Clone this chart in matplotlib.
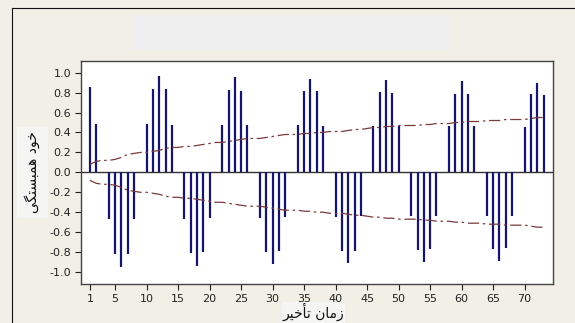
import numpy as np
import matplotlib.pyplot as plt
from matplotlib.patches import Rectangle
from matplotlib.lines import Line2D

plt.rcParams['axes.unicode_minus'] = False
plt.rcParams['font.family'] = ['DejaVu Sans']

# =========================
# DATA
# =========================
lags = list(range(1, 74))

acf = [0.86, 0.49, 0.00, -0.47, -0.82, -0.95, -0.82, -0.47, 0.00, 0.49,
       0.84, 0.97, 0.84, 0.48, 0.00, -0.47, -0.81, -0.94, -0.80, -0.46,
       0.00, 0.48, 0.83, 0.96, 0.82, 0.47, 0.00, -0.46, -0.80, -0.92,
       -0.79, -0.45, 0.00, 0.47, 0.82, 0.94, 0.82, 0.46, 0.00, -0.45,
       -0.79, -0.91, -0.79, -0.44, 0.00, 0.46, 0.81, 0.93, 0.80, 0.46,
       0.00, -0.44, -0.78, -0.90, -0.77, -0.44, 0.00, 0.46, 0.79, 0.92,
       0.79, 0.46, 0.00, -0.44, -0.77, -0.89, -0.76, -0.44, 0.00, 0.45,
       0.79, 0.90, 0.78]

upper_limit = [0.08, 0.11, 0.12, 0.12, 0.13, 0.15, 0.18, 0.19, 0.20, 0.20,
               0.21, 0.22, 0.24, 0.25, 0.25, 0.26, 0.26, 0.27, 0.28, 0.29,
               0.30, 0.30, 0.31, 0.32, 0.33, 0.34, 0.34, 0.34, 0.35, 0.36,
               0.37, 0.38, 0.38, 0.38, 0.39, 0.39, 0.40, 0.40, 0.41, 0.41,
               0.41, 0.42, 0.43, 0.43, 0.44, 0.45, 0.45, 0.46, 0.46, 0.47,
               0.47, 0.47, 0.47, 0.48, 0.48, 0.49, 0.49, 0.49, 0.50, 0.50,
               0.51, 0.51, 0.51, 0.52, 0.52, 0.52, 0.53, 0.53, 0.53, 0.53,
               0.54, 0.55, 0.55]
lower_limit = [-u for u in upper_limit]

x_ticks = [1, 5, 10, 15, 20, 25, 30, 35, 40, 45, 50, 55, 60, 65, 70]
y_ticks = [-1.0, -0.8, -0.6, -0.4, -0.2, 0.0, 0.2, 0.4, 0.6, 0.8, 1.0]

# Persian labels, written with presentation forms in visual order
# (matplotlib does no Arabic shaping): "خود همبستگی" / "زمان تأخیر"
y_label = "\uFBFD\uFB95\uFE98\uFEB4\uFE92\uFEE4\uFEEB \uFEA9\uFEEE\uFEA7"
x_label = "\uFEAE\uFEF4\uFEA7\uFE84\uFE97 \uFEE5\uFE8E\uFEE3\uFEAF"

# =========================
# FIGURE
# =========================
bg = "#f2efe6"
fig = plt.figure(figsize=(5.75, 3.23), dpi=100, facecolor=bg)

# lighter boxes behind title area and axis labels
fig.patches.append(Rectangle((132 / 575, 1 - 50 / 323), 317 / 575, 35 / 323,
                             transform=fig.transFigure, facecolor="#efefef",
                             edgecolor="none", zorder=0))
fig.patches.append(Rectangle((17 / 575, 1 - 218 / 323), 31 / 575, 91 / 323,
                             transform=fig.transFigure, facecolor="#f5f5f3",
                             edgecolor="none", zorder=0))
fig.patches.append(Rectangle((282 / 575, 0), 63 / 575, 21 / 323,
                             transform=fig.transFigure, facecolor="#f5f5f3",
                             edgecolor="none", zorder=0))

# outer border (top and left)
fig.lines.append(Line2D([12 / 575, 1], [1 - 8 / 323, 1 - 8 / 323],
                        transform=fig.transFigure, color="#111111", lw=0.8))
fig.lines.append(Line2D([12 / 575, 12 / 575], [0, 1 - 8 / 323],
                        transform=fig.transFigure, color="#111111", lw=0.8))

ax = fig.add_axes([81.4 / 575, 1 - 284 / 323, (553 - 81.4) / 575, (284 - 60.7) / 323])
ax.set_facecolor("white")

ax.vlines(lags, 0, acf, color="#15156a", lw=1.6, zorder=3)
ax.axhline(0, color="#333333", lw=1.0, zorder=2)

ls = (0, (9, 3, 2, 3))
ax.plot(lags, upper_limit, color="#7a3a3a", lw=0.9, ls=ls, zorder=4)
ax.plot(lags, lower_limit, color="#7a3a3a", lw=0.9, ls=ls, zorder=4)

ax.set_xlim(-0.35, 74.5)
ax.set_ylim(-1.12, 1.12)
ax.set_xticks(x_ticks)
ax.set_yticks(y_ticks)
ax.set_yticklabels([f"{v:.1f}" for v in y_ticks])
ax.tick_params(labelsize=8, colors="#222222", length=4, width=0.8)

for s in ax.spines.values():
    s.set_color("#444444")
    s.set_linewidth(1.0)

fig.text(313 / 575, 1 - 312 / 323, x_label, fontsize=10, ha="center", va="center",
         color="#111111")
fig.text(32 / 575, 1 - 172 / 323, y_label, fontsize=10, ha="center", va="center",
         rotation=90, color="#111111")

fig.savefig("out.png", dpi=100, facecolor=bg)
